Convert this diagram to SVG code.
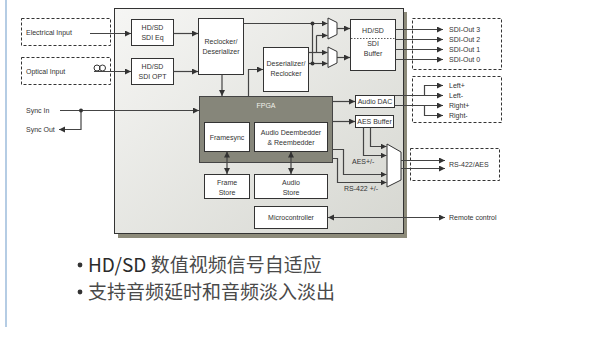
<svg xmlns="http://www.w3.org/2000/svg" width="607" height="337" viewBox="0 0 607 337">
<style>
text{font-family:"Liberation Sans",Arial,sans-serif;font-size:7px;fill:#333}
.c{text-anchor:middle}
.box{fill:#fff;stroke:#333;stroke-width:1}
.dash{fill:none;stroke:#333;stroke-width:1;stroke-dasharray:3,2}
.ln{fill:none;stroke:#444;stroke-width:1.2}
.ar{marker-end:url(#ah)}
.dbl{marker-end:url(#ah);marker-start:url(#ahs)}
.dot{fill:#333}
.cjk{font-family:"Noto Sans CJK SC","Noto Sans",sans-serif;font-size:19px;fill:#4a4a4a}
</style>
<defs>
<marker id="ah" markerUnits="userSpaceOnUse" markerWidth="7" markerHeight="7" refX="6" refY="3" orient="auto"><path d="M0,0 L6,3 L0,6 z" fill="#333"/></marker>
<marker id="ahs" markerUnits="userSpaceOnUse" markerWidth="7" markerHeight="7" refX="6" refY="3" orient="auto-start-reverse"><path d="M0,0 L6,3 L0,6 z" fill="#333"/></marker>
<linearGradient id="bg" x1="0" y1="0" x2="1" y2="1"><stop offset="0" stop-color="#f6f6f4"/><stop offset="1" stop-color="#d6d7d1"/></linearGradient>
</defs>
<rect width="607" height="337" fill="#fff"/>
<line x1="6" y1="0" x2="6" y2="327" stroke="#a3c0de" stroke-width="1.6"/>
<g id="mainbox">
<rect x="118" y="12" width="289" height="226" fill="#8d8b7a"/>
<rect x="114.5" y="8.5" width="289" height="225" fill="url(#bg)" stroke="#333" stroke-width="1"/>
</g>
<g id="electrical-input"><rect class="dash" x="21.5" y="18.5" width="89" height="27"/><text x="26" y="35">Electrical Input</text></g>
<g id="optical-input"><rect class="dash" x="21.5" y="57.5" width="89" height="27"/><text x="26" y="74">Optical Input</text>
<circle cx="97" cy="68" r="3" fill="none" stroke="#333" stroke-width="1"/><circle cx="102.5" cy="68" r="3" fill="none" stroke="#333" stroke-width="1"/></g>
<g id="sync"><text x="26" y="112.5">Sync In</text><text x="26" y="131.5">Sync Out</text></g>
<g id="sdi-eq"><rect class="box" x="131.5" y="19.5" width="42" height="26"/><text class="c" x="152.5" y="30">HD/SD</text><text class="c" x="152.5" y="40">SDI Eq</text></g>
<g id="sdi-opt"><rect class="box" x="131.5" y="58.5" width="42" height="26"/><text class="c" x="152.5" y="69">HD/SD</text><text class="c" x="152.5" y="79">SDI OPT</text></g>
<g id="reclocker-deserializer"><rect class="box" x="198.5" y="18.5" width="45" height="56"/><text class="c" x="221" y="44">Reclocker/</text><text class="c" x="221" y="53.5">Deserializer</text></g>
<g id="deserializer-reclocker"><rect class="box" x="263.5" y="47.5" width="45" height="44"/><text class="c" x="286" y="65.5">Deserializer/</text><text class="c" x="286" y="76">Reclocker</text></g>
<g id="mux1"><polygon points="328,18 337,22.5 337,34.5 328,39" fill="#fff" stroke="#333" stroke-width="1"/></g>
<g id="mux2"><polygon points="328,47 337,51.5 337,63 328,67.5" fill="#fff" stroke="#333" stroke-width="1"/></g>
<g id="sdi-buffer"><rect class="box" x="350.5" y="19.5" width="45" height="51"/><text class="c" x="373" y="33">HD/SD</text>
<line x1="351" y1="38.5" x2="395" y2="38.5" stroke="#333" stroke-width="0.8" stroke-dasharray="1.5,1.5"/>
<text class="c" x="373" y="45.5">SDI</text><text class="c" x="373" y="55.5">Buffer</text></g>
<g id="sdi-outputs"><rect class="dash" x="412.5" y="18.5" width="89" height="51"/>
<text x="449" y="31.5">SDI-Out 3</text><text x="449" y="41.5">SDI-Out 2</text><text x="449" y="51.5">SDI-Out 1</text><text x="449" y="61.5">SDI-Out 0</text></g>
<g id="fpga"><rect x="199.5" y="96.5" width="133" height="66" fill="#86867a" stroke="#444" stroke-width="1"/><text class="c" x="266" y="107.5" style="fill:#f0f0ea">FPGA</text></g>
<g id="framesync"><rect class="box" x="204.5" y="122.5" width="45" height="29"/><text class="c" x="227" y="139.5">Framesync</text></g>
<g id="audio-deembedder"><rect class="box" x="254.5" y="122.5" width="73" height="29"/><text class="c" x="291" y="134.5">Audio Deembedder</text><text class="c" x="291" y="144.5">&amp; Reembedder</text></g>
<g id="frame-store"><rect class="box" x="204.5" y="174.5" width="45" height="24"/><text class="c" x="227" y="185">Frame</text><text class="c" x="227" y="195">Store</text></g>
<g id="audio-store"><rect class="box" x="254.5" y="174.5" width="73" height="24"/><text class="c" x="291" y="185">Audio</text><text class="c" x="291" y="195">Store</text></g>
<g id="microcontroller"><rect class="box" x="254.5" y="206.5" width="73" height="22"/><text class="c" x="291" y="220">Microcontroller</text></g>
<g id="audio-dac"><rect class="box" x="355.5" y="95.5" width="39" height="12"/><text class="c" x="375" y="104">Audio DAC</text></g>
<g id="aes-buffer"><rect class="box" x="355.5" y="115.5" width="38" height="12"/><text class="c" x="374.5" y="124">AES Buffer</text></g>
<g id="mux3"><polygon points="387,144 401,152 401,180 387,187" fill="#fff" stroke="#333" stroke-width="1"/></g>
<g id="audio-outputs"><rect class="dash" x="412.5" y="76.5" width="89" height="46"/>
<text x="449" y="88">Left+</text><text x="449" y="98">Left-</text><text x="449" y="108">Right+</text><text x="449" y="118">Right-</text></g>
<g id="rs422-aes"><rect class="dash" x="410.5" y="148.5" width="89" height="32"/><text x="449" y="166.5">RS-422/AES</text></g>
<g id="remote-control"><text x="449" y="219.5">Remote control</text></g>
<g id="labels"><text x="352" y="164">AES+/-</text><text x="344" y="190.5">RS-422 +/-</text></g>
<g id="connectors">
<path class="ln ar" d="M90,33.5 H131"/>
<path class="ln ar" d="M94,71.5 H131"/>
<path class="ln ar" d="M173.5,33.5 H198"/>
<path class="ln ar" d="M173.5,71.5 H198"/>
<path class="ln ar" d="M60,110.5 H199"/>
<path class="ln ar" d="M81,110.5 V129.5 H59"/>
<path class="ln ar" d="M222,74.5 V96"/>
<path class="ln ar" d="M248.5,96.5 V69.5 H263"/>
<path class="ln ar" d="M243.5,23.5 H327.5"/>
<path class="ln" d="M312.5,23.5 V63.5"/>
<path class="ln ar" d="M316.5,35.5 H327.5"/>
<path class="ln" d="M316.5,35.5 V52.5"/>
<path class="ln ar" d="M308.5,52.5 H327.5"/>
<path class="ln ar" d="M308.5,63.5 H327.5"/>
<path class="ln ar" d="M337,28.5 H350"/>
<path class="ln ar" d="M337,57.5 H350"/>
<path class="ln ar" d="M395.5,29.5 H443"/>
<path class="ln ar" d="M395.5,39.5 H443"/>
<path class="ln ar" d="M395.5,49.5 H443"/>
<path class="ln ar" d="M395.5,59.5 H443"/>
<path class="ln ar" d="M332.5,101.5 H355"/>
<path class="ln ar" d="M332.5,121.5 H355"/>
<path class="ln ar" d="M394.5,95.5 H443"/>
<path class="ln ar" d="M394.5,105.5 H443"/>
<path class="ln ar" d="M424.5,95.5 V85.5 H443"/>
<path class="ln ar" d="M424.5,105.5 V115.5 H443"/>
<path class="ln ar" d="M370.5,127.5 V146.5 H386.5"/>
<path class="ln ar" d="M363.5,127.5 V155.5 H386.5"/>
<path class="ln ar" d="M332.5,149.5 H343.5 V174.5 H386.5"/>
<path class="ln ar" d="M332.5,158.5 H337.5 V182.5 H386.5"/>
<path class="ln ar" d="M401,160.5 H445"/>
<path class="ln ar" d="M401,168.5 H445"/>
<path class="ln dbl" d="M227,151.5 V174"/>
<path class="ln dbl" d="M291,151.5 V174"/>
<path class="ln dbl" d="M328,217.5 H445"/>
<circle class="dot" cx="81" cy="110.5" r="2"/>
<circle class="dot" cx="312.5" cy="23.5" r="2"/>
<circle class="dot" cx="312.5" cy="63.5" r="2"/>
</g>
<g id="bullets">
<circle cx="80" cy="265" r="2.4" fill="#333"/>
<circle cx="80" cy="292" r="2.4" fill="#333"/>
<text class="cjk" x="88" y="271.5"><tspan style="fill:#2a2a2a">HD/SD</tspan> 数值视频信号自适应</text>
<text class="cjk" x="88" y="298.5">支持音频延时和音频淡入淡出</text>
</g>
</svg>
